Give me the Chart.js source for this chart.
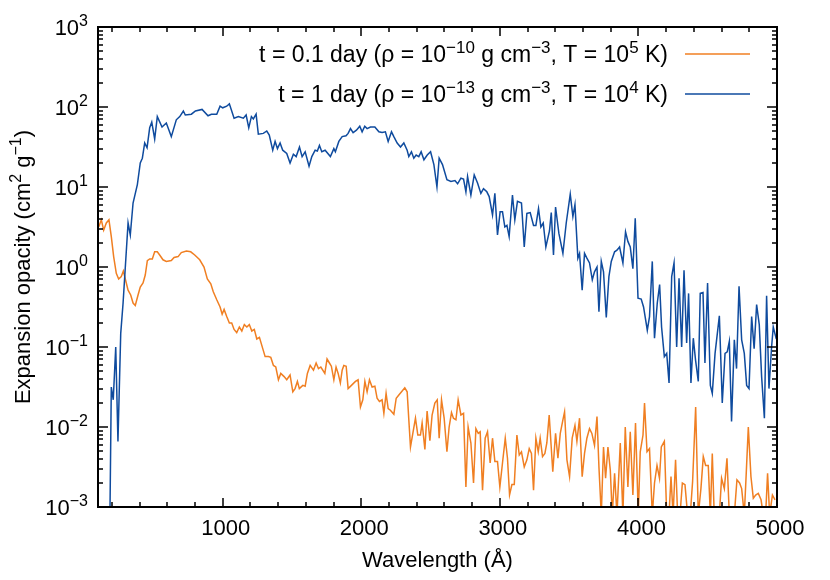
<!DOCTYPE html>
<html>
<head>
<meta charset="utf-8">
<title>Expansion opacity</title>
<script src="https://cdn.jsdelivr.net/npm/chart.js@4.4.1/dist/chart.umd.min.js"></script>
<style>
  html, body { margin: 0; padding: 0; background: #fff; }
  canvas { display: block; }
</style>
</head>
<body>
<canvas id="opacity-chart" width="830" height="580"></canvas>
<script>
// values; opacity given as log10(cm^2 g^-1)
const waveEarly = [105, 124, 141, 160, 179, 196, 213, 232, 249, 268, 283, 297, 317, 336, 353, 369, 389, 405, 425, 441,
    456, 473, 492, 509, 528, 545, 569, 593, 629, 649, 678, 701, 738, 769, 798, 834, 865, 889, 914, 932,
    957, 981, 996, 1010, 1029, 1048, 1065, 1082, 1101, 1120, 1138, 1156, 1174, 1192, 1210, 1228, 1246, 1265, 1289, 1306,
    1330, 1347, 1366, 1383, 1402, 1419, 1443, 1462, 1486, 1506, 1522, 1539, 1553, 1578, 1595, 1611, 1631, 1655, 1674, 1691,
    1708, 1737, 1753, 1770, 1784, 1802, 1818, 1833, 1849, 1862, 1874, 1891, 1905, 1929, 1958, 1977, 1994, 2011, 2026, 2042,
    2059, 2078, 2098, 2114, 2131, 2150, 2163, 2179, 2194, 2210, 2235, 2252, 2271, 2295, 2314, 2331, 2343, 2355, 2372, 2391,
    2408, 2427, 2439, 2459, 2475, 2495, 2511, 2531, 2548, 2562, 2579, 2598, 2618, 2634, 2651, 2665, 2683, 2699, 2719, 2738,
    2755, 2771, 2791, 2810, 2827, 2844, 2858, 2875, 2894, 2911, 2930, 2947, 2964, 2983, 3000, 3019, 3039, 3055, 3070, 3087,
    3104, 3123, 3140, 3156, 3176, 3195, 3212, 3228, 3243, 3260, 3277, 3291, 3308, 3325, 3339, 3356, 3382, 3402, 3419, 3436,
    3455, 3467, 3484, 3503, 3522, 3542, 3556, 3575, 3594, 3611, 3628, 3647, 3664, 3683, 3701, 3715, 3732, 3748, 3763, 3780,
    3797, 3811, 3828, 3845, 3869, 3888, 3905, 3924, 3941, 3960, 3979, 3999, 4013, 4033, 4044, 4062, 4080, 4100, 4116, 4134,
    4152, 4165, 4187, 4204, 4221, 4235, 4250, 4268, 4283, 4300, 4317, 4336, 4355, 4374, 4391, 4413, 4432, 4451, 4468, 4485,
    4504, 4519, 4533, 4547, 4567, 4584, 4600, 4620, 4639, 4656, 4672, 4692, 4711, 4730, 4745, 4764, 4778, 4793, 4812, 4829,
    4846, 4865, 4885, 4901, 4918, 4932, 4947, 4967, 4986]
const logEarly = [0.50, 0.59, 0.46, 0.55, 0.59, 0.38, 0.13, -0.08, -0.15, -0.12, -0.05, -0.15, -0.29, -0.35, -0.45, -0.48, -0.35, -0.25, -0.20, -0.10,
    0.08, 0.10, 0.10, 0.19, 0.19, 0.15, 0.09, 0.07, 0.08, 0.12, 0.13, 0.18, 0.20, 0.19, 0.15, 0.09, 0.00, -0.15, -0.21, -0.31,
    -0.41, -0.50, -0.59, -0.53, -0.62, -0.70, -0.70, -0.78, -0.82, -0.75, -0.80, -0.72, -0.75, -0.72, -0.80, -0.78, -0.90, -0.88, -1.02, -1.12,
    -1.12, -1.13, -1.23, -1.25, -1.41, -1.33, -1.37, -1.41, -1.35, -1.56, -1.52, -1.43, -1.52, -1.48, -1.49, -1.33, -1.23, -1.29, -1.20, -1.27,
    -1.25, -1.33, -1.15, -1.20, -1.24, -1.41, -1.25, -1.33, -1.45, -1.29, -1.23, -1.24, -1.52, -1.48, -1.43, -1.41, -1.75, -1.66, -1.43, -1.56,
    -1.41, -1.50, -1.49, -1.64, -1.68, -1.66, -1.83, -1.58, -1.77, -1.79, -1.84, -1.64, -1.60, -1.55, -1.51, -1.56, -1.91, -2.25, -2.08, -1.89,
    -2.10, -2.10, -1.95, -2.28, -1.80, -2.17, -1.85, -1.70, -1.66, -2.14, -1.66, -1.89, -2.31, -2.00, -1.82, -1.89, -1.91, -1.66, -1.85, -1.83,
    -2.75, -2.00, -2.20, -2.70, -2.02, -2.08, -2.06, -2.79, -2.14, -2.06, -2.45, -2.14, -2.43, -2.43, -2.75, -2.45, -2.14, -2.39, -2.85, -2.72,
    -2.72, -2.10, -2.35, -2.31, -2.50, -2.41, -2.27, -2.33, -2.79, -2.14, -2.31, -2.14, -2.37, -2.33, -2.20, -1.85, -2.56, -2.08, -2.39, -2.08,
    -1.91, -1.81, -2.41, -2.62, -2.14, -1.98, -2.18, -1.89, -2.62, -2.33, -2.14, -2.02, -2.08, -2.23, -1.87, -2.50, -3.10, -2.25, -2.64, -2.25,
    -2.54, -3.10, -2.58, -3.10, -2.20, -3.10, -2.00, -2.75, -2.06, -2.85, -1.95, -3.10, -2.31, -2.10, -1.70, -2.31, -2.27, -3.10, -2.70, -2.48,
    -2.64, -2.25, -2.18, -3.10, -3.10, -2.62, -3.10, -2.41, -3.10, -3.10, -2.70, -2.72, -3.10, -3.10, -2.68, -1.75, -3.10, -2.77, -2.37, -2.48,
    -2.48, -3.10, -2.33, -3.10, -3.10, -3.10, -2.64, -2.77, -2.39, -3.10, -3.10, -3.10, -2.66, -2.70, -2.77, -3.10, -2.58, -2.00, -2.62, -2.89,
    -2.85, -2.83, -2.91, -3.10, -3.10, -2.58, -3.10, -2.85, -2.91]

const waveLate = [185, 196, 210, 228, 244, 264, 281, 317, 333, 353, 384, 405, 420, 437, 454, 473, 488, 509, 528, 562,
    593, 629, 665, 690, 716, 730, 774, 803, 851, 894, 918, 957, 981, 1000, 1029, 1048, 1082, 1113, 1149, 1169,
    1188, 1207, 1221, 1241, 1257, 1293, 1318, 1336, 1361, 1378, 1395, 1414, 1433, 1462, 1486, 1510, 1530, 1554, 1573, 1595,
    1623, 1643, 1667, 1683, 1698, 1715, 1739, 1777, 1802, 1813, 1838, 1862, 1890, 1905, 1922, 1941, 1965, 1989, 2006, 2025,
    2042, 2066, 2098, 2127, 2150, 2174, 2194, 2218, 2235, 2259, 2283, 2307, 2331, 2343, 2362, 2379, 2396, 2415, 2432, 2452,
    2476, 2500, 2524, 2546, 2562, 2586, 2618, 2647, 2676, 2695, 2719, 2738, 2755, 2767, 2791, 2815, 2839, 2863, 2882, 2906,
    2923, 2947, 2964, 2983, 3002, 3019, 3036, 3051, 3067, 3091, 3108, 3127, 3156, 3176, 3195, 3219, 3243, 3260, 3279, 3296,
    3313, 3332, 3358, 3371, 3387, 3402, 3426, 3455, 3479, 3508, 3527, 3542, 3563, 3575, 3594, 3611, 3628, 3647, 3667, 3683,
    3701, 3715, 3732, 3748, 3768, 3787, 3804, 3828, 3845, 3864, 3888, 3907, 3924, 3941, 3960, 3977, 3997, 4020, 4037, 4064,
    4080, 4100, 4116, 4136, 4153, 4167, 4187, 4204, 4221, 4240, 4257, 4276, 4293, 4312, 4329, 4348, 4362, 4379, 4396, 4412,
    4432, 4446, 4466, 4480, 4499, 4519, 4533, 4553, 4584, 4605, 4625, 4641, 4656, 4672, 4692, 4708, 4726, 4745, 4764, 4781,
    4798, 4817, 4835, 4853, 4872, 4889, 4909, 4925, 4942, 4961, 4973, 4995]
const logLate = [-3.30, -1.50, -1.66, -1.00, -2.18, -0.83, -0.45, 0.55, 0.40, 0.80, 1.03, 1.30, 1.36, 1.55, 1.49, 1.74, 1.81, 1.60, 1.88, 1.75,
    1.80, 1.63, 1.84, 1.88, 1.95, 1.90, 1.91, 1.95, 1.97, 1.89, 1.91, 1.91, 2.01, 1.99, 2.01, 2.04, 1.86, 1.88, 1.86, 1.90,
    1.74, 1.88, 1.85, 1.91, 1.66, 1.67, 1.70, 1.65, 1.46, 1.57, 1.48, 1.55, 1.46, 1.42, 1.30, 1.41, 1.38, 1.50, 1.38, 1.44,
    1.26, 1.38, 1.46, 1.45, 1.52, 1.44, 1.46, 1.38, 1.48, 1.44, 1.57, 1.63, 1.64, 1.67, 1.73, 1.68, 1.71, 1.76, 1.69, 1.76,
    1.73, 1.75, 1.75, 1.69, 1.68, 1.69, 1.57, 1.69, 1.63, 1.55, 1.50, 1.55, 1.46, 1.38, 1.44, 1.36, 1.40, 1.38, 1.44, 1.34,
    1.40, 1.44, 1.28, 1.00, 1.36, 1.28, 1.09, 1.07, 1.08, 1.04, 1.11, 1.10, 0.94, 1.13, 0.90, 1.15, 1.05, 0.92, 0.98, 0.94,
    0.88, 0.65, 0.92, 0.40, 0.69, 0.69, 0.50, 0.52, 0.38, 0.90, 0.59, 0.82, 0.80, 0.25, 0.67, 0.68, 0.52, 0.52, 0.73, 0.50,
    0.55, 0.25, 0.45, 0.68, 0.15, 0.75, 0.42, 0.17, 0.55, 0.91, 0.63, 0.78, 0.11, 0.17, -0.29, 0.17, 0.11, 0.05, -0.16, -0.06,
    0.00, -0.56, 0.07, -0.06, -0.63, -0.12, 0.07, 0.19, 0.21, 0.25, 0.05, 0.44, 0.32, 0.25, -0.02, 0.61, -0.39, -0.40, -0.50, -0.79,
    -0.62, 0.07, -0.89, -0.45, -0.22, -0.75, -1.12, -1.08, -1.45, -0.12, 0.05, -1.00, -0.14, -1.00, -0.04, -0.95, -0.33, -1.45, -0.89, -1.16,
    -1.43, -0.33, -0.32, -1.20, -0.20, -1.48, -1.58, -1.08, -0.61, -1.70, -1.08, -1.06, -0.93, -1.93, -0.91, -1.27, -0.24, -0.91, -1.08, -1.48,
    -1.52, -0.62, -1.02, -0.47, -0.72, -1.37, -1.89, -0.36, -1.52, -1.00, -0.75, -0.90]

const xTickValues = [1000, 2000, 3000, 4000, 5000]
const yTickExponents = [3, 2, 1, 0, -1, -2, -3]

// text pieces, second element marks a superscript
const legendEarly = [['t = 0.1 day (ρ = 10', 0], ['−10', 1], [' g cm', 0], ['−3', 1], [', T = 10', 0], ['5', 1], [' K)', 0]]
const legendLate = [['t = 1 day (ρ = 10', 0], ['−13', 1], [' g cm', 0], ['−3', 1], [', T = 10', 0], ['4', 1], [' K)', 0]]
const yTitle = [['Expansion opacity (cm', 0], ['2', 1], [' g', 0], ['−1', 1], [')', 0]]

const ORANGE = '#f07f22'
const BLUE = '#0f4b9e'
const FONT = '"Liberation Sans", Arial, Helvetica, sans-serif'

function toPoints(waves, logs) {
    return waves.map((w, i) => ({ x: w, y: Math.pow(10, logs[i]) }))
}

function richWidth(ctx, parts, big, sup) {
    let w = 0
    parts.forEach(p => {
        ctx.font = (p[1] ? sup : big) + 'px ' + FONT
        w += ctx.measureText(p[0]).width
    })
    return w
}

function drawRich(ctx, parts, x, y, big, sup) {
    let cx = x
    parts.forEach(p => {
        ctx.font = (p[1] ? sup : big) + 'px ' + FONT
        ctx.fillText(p[0], cx, p[1] ? y - 9 : y)
        cx += ctx.measureText(p[0]).width
    })
}

// gnuplot-like frame: inward ticks on all four sides, superscript labels, legend on the right
const framePlugin = {
    id: 'frame',
    afterDraw(chart) {
        const { ctx, chartArea: a, scales: { x, y } } = chart
        ctx.save()
        ctx.strokeStyle = '#000'
        ctx.lineWidth = 1.5
        ctx.beginPath()
        for (let v = 200; v <= 5000; v += 200) {
            const px = Math.round(x.getPixelForValue(v))
            const len = v % 1000 === 0 ? 9 : 5
            ctx.moveTo(px, a.bottom); ctx.lineTo(px, a.bottom - len)
            ctx.moveTo(px, a.top); ctx.lineTo(px, a.top + len)
        }
        for (let e = -3; e < 3; e++) {
            for (let m = 1; m <= 9; m++) {
                const py = Math.round(y.getPixelForValue(m * Math.pow(10, e)))
                const len = m === 1 ? 10 : 5
                ctx.moveTo(a.left, py); ctx.lineTo(a.left + len, py)
                ctx.moveTo(a.right, py); ctx.lineTo(a.right - len, py)
            }
        }
        ctx.stroke()
        ctx.lineWidth = 2
        ctx.strokeRect(a.left, a.top, a.right - a.left, a.bottom - a.top)

        ctx.fillStyle = '#000'
        ctx.textAlign = 'left'
        ctx.textBaseline = 'alphabetic'
        yTickExponents.forEach(e => {
            const py = y.getPixelForValue(Math.pow(10, e))
            const parts = [['10', 0], [e < 0 ? '−' + (-e) : String(e), 1]]
            drawRich(ctx, parts, 88 - richWidth(ctx, parts, 22, 16), py + 8, 22, 16)
        })

        ctx.save()
        ctx.translate(30, (a.top + a.bottom) / 2)
        ctx.rotate(-Math.PI / 2)
        drawRich(ctx, yTitle, -richWidth(ctx, yTitle, 22, 16) / 2, 0, 22, 16)
        ctx.restore()

        const rows = [[legendEarly, ORANGE, 54], [legendLate, BLUE, 94]]
        rows.forEach(([parts, color, ly]) => {
            ctx.fillStyle = '#000'
            drawRich(ctx, parts, 668 - richWidth(ctx, parts, 23, 17), ly + 8, 23, 17)
            ctx.strokeStyle = color
            ctx.lineWidth = 1.5
            ctx.beginPath()
            ctx.moveTo(685, ly); ctx.lineTo(750, ly)
            ctx.stroke()
        })
        ctx.restore()
    }
}

const ctx = document.getElementById('opacity-chart').getContext('2d')

new Chart(ctx, {
    type: 'line',
    data: {
        datasets: [{
            label: 't = 0.1 day (ρ = 10⁻¹⁰ g cm⁻³, T = 10⁵ K)',
            data: toPoints(waveEarly, logEarly),
            borderColor: ORANGE,
            borderWidth: 1.5,
            pointRadius: 0,
            tension: 0,
            order: 1
        }, {
            label: 't = 1 day (ρ = 10⁻¹³ g cm⁻³, T = 10⁴ K)',
            data: toPoints(waveLate, logLate),
            borderColor: BLUE,
            borderWidth: 1.5,
            pointRadius: 0,
            tension: 0,
            order: 0
        }]
    },
    options: {
        responsive: false,
        animation: false,
        devicePixelRatio: 1,
        layout: { padding: { top: 27, right: 53, left: 0, bottom: 0 } },
        plugins: {
            legend: { display: false },
            tooltip: { enabled: false }
        },
        scales: {
            x: {
                type: 'linear',
                min: 100,
                max: 5000,
                grid: { display: false },
                border: { display: false },
                afterBuildTicks: s => { s.ticks = xTickValues.map(v => ({ value: v })) },
                afterFit: s => { s.height = 73 },
                ticks: {
                    autoSkip: false,
                    maxRotation: 0,
                    padding: 1,
                    labelOffset: 3,
                    color: '#000',
                    font: { family: FONT, size: 22 },
                    callback: v => String(v)
                },
                title: {
                    display: true,
                    text: 'Wavelength (Å)',
                    color: '#000',
                    font: { family: FONT, size: 22 },
                    padding: { top: 0, bottom: 6 }
                }
            },
            y: {
                type: 'logarithmic',
                min: 1e-3,
                max: 1e3,
                grid: { display: false },
                border: { display: false },
                ticks: { display: false },
                afterFit: s => { s.width = 98 }
            }
        }
    },
    plugins: [framePlugin]
})
</script>
</body>
</html>
